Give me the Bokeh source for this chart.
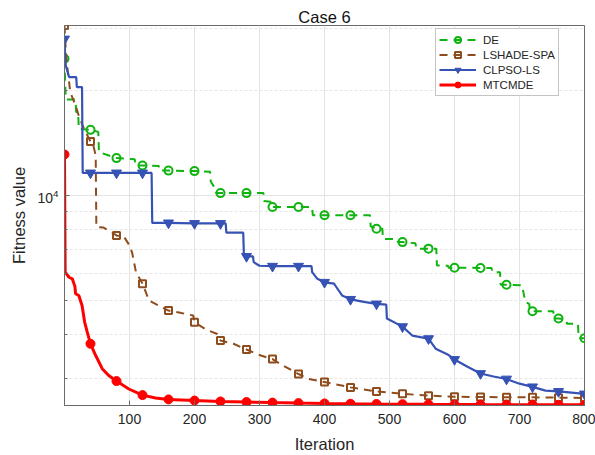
from bokeh.plotting import figure
from bokeh.models import (FixedTicker, Legend, LegendItem, Range1d)
from bokeh.embed import file_html
from bokeh.resources import INLINE

# ---------------- data ----------------
de_iter = [0, 1, 2, 17, 18, 21, 22, 40, 52, 53, 80, 108, 109, 120, 145, 146, 160,
           200, 224, 225, 232, 233, 240, 280, 306, 307, 317, 318, 320, 360, 381,
           382, 400, 440, 470, 471, 480, 489, 490, 512, 513, 520, 540, 541, 560,
           572, 573, 590, 591, 600, 640, 657, 658, 670, 671, 680, 704, 709, 715,
           716, 720, 752, 753, 760, 772, 773, 790, 791, 800]
de_val = [24600, 21000, 18800, 18800, 17300, 17300, 15500, 15400, 15200, 13300,
          12790, 12700, 12180, 12180, 12150, 11780, 11780, 11740, 11700, 10960,
          10450, 10160, 10160, 10160, 10160, 9640, 9600, 9270, 9270, 9270, 9270,
          8780, 8780, 8780, 8780, 8170, 8040, 8040, 7520, 7500, 7360, 7360, 7300,
          7050, 7050, 7050, 6310, 6300, 6220, 6220, 6210, 6210, 6040, 6040, 5560,
          5560, 5540, 4960, 4900, 4670, 4670, 4670, 4450, 4450, 4430, 4300, 4300,
          3910, 3910]

ls_iter = [0, 2, 4, 9, 17, 22, 30, 40, 44, 48, 49, 60, 70, 80, 92, 100, 104, 110,
           120, 130, 160, 176, 198, 200, 217, 235, 240, 260, 280, 302, 320, 332,
           360, 376, 400, 440, 480, 520, 560, 600, 640, 680, 720, 760, 800]
ls_val = [30600, 26000, 23500, 19700, 18100, 16900, 15500, 14260, 14000, 13000,
          8130, 8100, 7900, 7690, 7600, 7200, 6870, 6040, 5600, 5010, 4690, 4630,
          4540, 4345, 4150, 4020, 3850, 3770, 3630, 3490, 3410, 3300, 3090, 2990,
          2930, 2830, 2755, 2712, 2680, 2662, 2656, 2652, 2650, 2645, 2640]

cl_iter = [0, 1, 2, 7, 18, 19, 27, 28, 40, 80, 120, 134, 135, 160, 200, 240, 248,
           249, 275, 276, 280, 290, 291, 300, 320, 360, 380, 381, 389, 400, 415,
           416, 427, 440, 463, 480, 495, 496, 520, 535, 560, 571, 591, 600, 620,
           640, 660, 680, 700, 720, 740, 760, 800]
cl_val = [28000, 25100, 23500, 21800, 21800, 20400, 20400, 11600, 11600, 11600,
          11600, 11600, 8350, 8350, 8320, 8320, 8320, 7830, 7830, 6740, 6700, 6700,
          6450, 6300, 6280, 6280, 6280, 6040, 5780, 5650, 5600, 5550, 5180, 5050,
          4960, 4900, 4880, 4450, 4220, 3980, 3900, 3650, 3500, 3400, 3240, 3100,
          3040, 2990, 2900, 2840, 2770, 2755, 2710]

mt_iter = [0, 1, 7, 12, 16, 17, 22, 27, 31, 35, 40, 48, 58, 68, 80, 99, 120, 140,
           160, 200, 240, 280, 320, 360, 400, 440, 480, 520, 560, 600, 640, 680,
           720, 760, 800]
mt_val = [13100, 6040, 5840, 5780, 5500, 5240, 5180, 4850, 4350, 4070, 3770, 3490,
          3200, 3060, 2950, 2800, 2690, 2640, 2615, 2595, 2580, 2570, 2560, 2552,
          2546, 2541, 2537, 2534, 2531, 2529, 2527, 2526, 2525, 2524, 2523]

x_ticks = [100, 200, 300, 400, 500, 600, 700, 800]
y_major = [10000]
y_minor = [3000, 4000, 5000, 6000, 7000, 8000, 9000, 20000, 30000]
marker_step = 40

FONT = "Liberation Sans"
TXT = "#262626"
AX = "#6a6a6a"

p = figure(width=595, height=455, x_range=Range1d(0, 800),
           y_range=Range1d(2512, 30600), y_axis_type="log",
           output_backend="svg", toolbar_location=None,
           min_border_left=64, min_border_right=11, min_border_top=25,
           min_border_bottom=50)
p.background_fill_color = "white"
p.border_fill_color = "white"
p.outline_line_color = AX
p.outline_line_width = 1

p.title.text = "Case 6"
p.title.align = "center"
p.title.text_font = FONT
p.title.text_font_size = "16.5px"
p.title.text_font_style = "normal"
p.title.text_color = "#111111"
p.title.standoff = 0

xt = FixedTicker(ticks=x_ticks, minor_ticks=[])
yt = FixedTicker(ticks=y_major, minor_ticks=y_minor)

xa = p.xaxis[0]
xa.ticker = xt
ya = p.yaxis[0]
ya.ticker = yt
for ax in (xa, ya):
    ax.axis_line_color = AX
    ax.major_tick_line_color = AX
    ax.minor_tick_line_color = AX
    ax.major_tick_in = 5
    ax.major_tick_out = 0
    ax.minor_tick_in = 3
    ax.minor_tick_out = 0
    ax.major_label_text_font = FONT
    ax.major_label_text_font_size = "14px"
    ax.major_label_text_color = TXT
    ax.axis_label_text_font = FONT
    ax.axis_label_text_font_size = "16.5px"
    ax.axis_label_text_font_style = "normal"
    ax.axis_label_text_color = TXT
xa.axis_label = "Iteration"
ya.axis_label = "Fitness value"
xa.major_label_standoff = 8
xa.axis_label_standoff = 8
ya.major_label_standoff = 6
ya.axis_label_standoff = 6

p.xgrid.ticker = xt
p.ygrid.ticker = yt
p.xgrid.grid_line_color = "#e3e3e3"
p.ygrid.grid_line_color = "#e3e3e3"
p.ygrid.minor_grid_line_color = "#e6e6e6"
p.ygrid.minor_grid_line_dash = "3 2"


def sub(xs, ys):
    mx = [x for x in xs if x % marker_step == 0]
    my = [y for x, y in zip(xs, ys) if x % marker_step == 0]
    return mx, my


items = []
l1 = p.line(de_iter, de_val, line_color="#10b410", line_width=2, line_dash="8 6")
mx, my = sub(de_iter, de_val)
m1 = p.scatter(mx, my, marker="circle", size=8, line_color="#10b410",
               line_width=2, fill_alpha=0)
items.append(LegendItem(label="DE", renderers=[l1, m1]))

l2 = p.line(ls_iter, ls_val, line_color="#8f4c1c", line_width=2, line_dash="8 6")
mx, my = sub(ls_iter, ls_val)
m2 = p.scatter(mx, my, marker="square", size=7, line_color="#8f4c1c",
               line_width=2, fill_alpha=0)
items.append(LegendItem(label="LSHADE-SPA", renderers=[l2, m2]))

l3 = p.line(cl_iter, cl_val, line_color="#3552b4", line_width=2.2)
mx, my = sub(cl_iter, cl_val)
m3 = p.scatter(mx, my, marker="inverted_triangle", size=10, line_color="#3552b4",
               fill_color="#3552b4")
items.append(LegendItem(label="CLPSO-LS", renderers=[l3, m3]))

l4 = p.line(mt_iter, mt_val, line_color="#ff0000", line_width=3)
mx, my = sub(mt_iter, mt_val)
m4 = p.scatter(mx, my, marker="circle", size=9, line_color="#ff0000",
               fill_color="#ff0000")
items.append(LegendItem(label="MTCMDE", renderers=[l4, m4]))

legend = Legend(items=items, location=(371, 309), orientation="vertical",
                label_text_font=FONT, label_text_font_size="11.5px",
                label_text_color=TXT, glyph_width=37, glyph_height=15,
                label_height=15, spacing=0, padding=3, margin=0,
                label_standoff=7, border_line_color="#8a8a8a",
                border_line_width=1, background_fill_color="white",
                background_fill_alpha=1)
p.add_layout(legend)

open("out.html", "w").write(file_html(p, INLINE))
